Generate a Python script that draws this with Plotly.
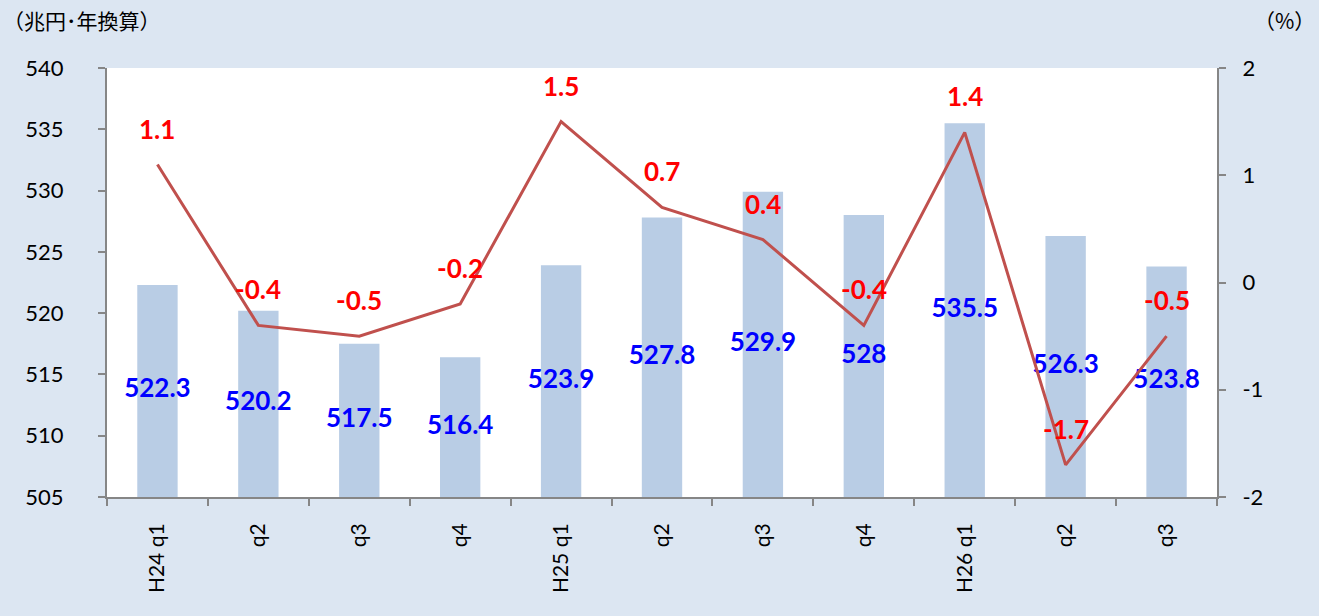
import plotly.graph_objects as go

categories = ["H24 q1", "q2", "q3", "q4", "H25 q1", "q2", "q3", "q4", "H26 q1", "q2", "q3"]
gdp = [522.3, 520.2, 517.5, 516.4, 523.9, 527.8, 529.9, 528.0, 535.5, 526.3, 523.8]
growth = [1.1, -0.4, -0.5, -0.2, 1.5, 0.7, 0.4, -0.4, 1.4, -1.7, -0.5]
gdp_labels = ["522.3", "520.2", "517.5", "516.4", "523.9", "527.8", "529.9", "528", "535.5", "526.3", "523.8"]
growth_labels = ["1.1", "-0.4", "-0.5", "-0.2", "1.5", "0.7", "0.4", "-0.4", "1.4", "-1.7", "-0.5"]
left_ticks = [505, 510, 515, 520, 525, 530, 535, 540]
right_ticks = [-2, -1, 0, 1, 2]
right_ticktext = ["-2", "-1", "0", "1", "2"]
left_min, left_max = 505, 540

FONT = "Lato, 'Open Sans', sans-serif"
JP = "'Noto Sans CJK JP', sans-serif"
xs = list(range(len(categories)))

fig = go.Figure()
fig.add_trace(go.Bar(
    x=xs, y=gdp, width=0.4,
    marker=dict(color="#B9CDE5", line=dict(width=0)),
    yaxis="y", showlegend=False, hoverinfo="skip",
))
# bar value labels centred within the visible part of each bar
fig.add_trace(go.Scatter(
    x=xs, y=[(left_min + v) / 2 for v in gdp], mode="text",
    text=gdp_labels, textposition="middle center",
    textfont=dict(color="#0000FF", size=26, family=FONT, weight="bold"),
    yaxis="y", showlegend=False, hoverinfo="skip", cliponaxis=False,
))
fig.add_trace(go.Scatter(
    x=xs, y=growth, mode="lines",
    line=dict(color="#C0504D", width=3),
    yaxis="y2", showlegend=False,
))
for x, g, t in zip(xs, growth, growth_labels):
    fig.add_annotation(x=x, y=g, xref="x", yref="y2", text=t,
                       showarrow=False, yshift=36,
                       font=dict(color="#FF0000", size=26, family=FONT, weight="bold"))

fig.add_annotation(x=0, y=1, xref="paper", yref="paper", xanchor="left", yanchor="middle",
                   text="（兆円･年換算）", showarrow=False, xshift=-106, yshift=48,
                   font=dict(size=21, color="#000000", family=JP))
fig.add_annotation(x=1, y=1, xref="paper", yref="paper", xanchor="right", yanchor="middle",
                   text="（%）", showarrow=False, xshift=100, yshift=48,
                   font=dict(size=21, color="#000000", family=JP))

fig.update_layout(
    width=1319, height=616,
    paper_bgcolor="#DCE6F2", plot_bgcolor="#FFFFFF",
    margin=dict(l=107, r=102, t=68, b=119),
    font=dict(family=FONT, size=22, color="#000000"),
    xaxis=dict(
        range=[-0.5, len(categories) - 0.5],
        tickmode="array", tickvals=xs, ticktext=categories,
        tickangle=-90, ticks="", showgrid=False, zeroline=False,
        showline=True, linecolor="#868686", linewidth=2,
        ticklabelstandoff=16, tickfont=dict(size=21),
        minor=dict(tickmode="array", tickvals=[x - 0.5 for x in xs] + [len(xs) - 0.5],
                   ticks="outside", ticklen=7, tickcolor="#868686", tickwidth=2, showgrid=False),
    ),
    yaxis=dict(
        range=[left_min, left_max], tickmode="array", tickvals=left_ticks,
        ticks="outside", ticklen=7, tickcolor="#868686", tickwidth=2,
        showline=True, linecolor="#868686", linewidth=2,
        showgrid=False, zeroline=False, ticklabelstandoff=30,
    ),
    yaxis2=dict(
        range=[-2, 2], tickmode="array", tickvals=right_ticks, ticktext=right_ticktext,
        overlaying="y", side="right",
        ticks="outside", ticklen=7, tickcolor="#868686", tickwidth=2,
        showline=True, linecolor="#868686", linewidth=2,
        showgrid=False, zeroline=False, ticklabelstandoff=12,
    ),
)

fig.write_html("out.html", config={"displayModeBar": False},
               post_script="document.body.style.margin='0';document.body.style.overflow='hidden';")
